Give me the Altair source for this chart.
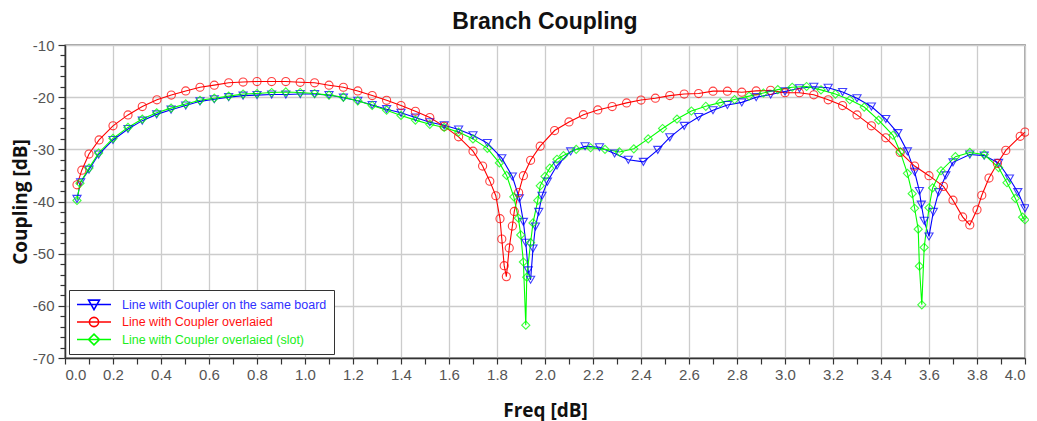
import altair as alt
import pandas as pd

S_BLUE = "Line with Coupler on the same board"
S_RED = "Line with Coupler overlaied"
S_GREEN = "Line with Coupler overlaied (slot)"
series_names = [S_BLUE, S_RED, S_GREEN]
series_colors = ["#0000ff", "#ff0000", "#00ff00"]
label_colors = ["#3030ff", "#ff1010", "#20ee20"]
marker_shapes = ["triangle-down", "circle", "diamond"]

blue_freq = [0.05, 0.065, 0.10, 0.14, 0.20, 0.2625, 0.322, 0.382, 0.442, 0.503, 0.5625, 0.622, 0.682,
             0.742, 0.80, 0.861, 0.92, 0.98, 1.04, 1.10, 1.16, 1.22, 1.28, 1.34, 1.40, 1.46, 1.52, 1.58,
             1.64, 1.70, 1.76, 1.82, 1.864, 1.893, 1.91, 1.92, 1.93, 1.94, 1.95, 1.96, 1.974, 1.9875,
             2.01, 2.05, 2.107, 2.167, 2.227, 2.29, 2.347, 2.41, 2.47, 2.52, 2.58, 2.64, 2.70, 2.76,
             2.82, 2.88, 2.94, 3.00, 3.06, 3.12, 3.18, 3.24, 3.30, 3.36, 3.42, 3.47, 3.51, 3.54, 3.56,
             3.568, 3.58, 3.60, 3.618, 3.64, 3.67, 3.70, 3.77, 3.83, 3.89, 3.935, 3.97, 4.00]
blue_db = [-39.5, -36.3, -33.9, -31.0, -28.2, -26.1, -24.5, -23.3, -22.4, -21.6, -20.8, -20.4, -20.0,
           -19.7, -19.6, -19.5, -19.5, -19.4, -19.4, -19.6, -20.1, -20.7, -21.5, -22.3, -23.0, -23.9, -24.8, -25.4,
           -26.2, -27.3, -28.8, -31.7, -35.2, -39.4, -43.9, -47.9, -53.2, -55.0, -49.0, -44.8, -42.0, -38.9,
           -36.2, -33.1, -30.4, -29.4, -29.6, -30.8, -32.0, -32.4, -30.1, -27.7, -25.5, -23.8, -22.5, -21.5,
           -21.0, -20.0, -19.5, -18.9, -18.3, -18.0, -18.2, -19.0, -20.2, -21.8, -24.2, -26.9, -30.4, -34.3, -38.0,
           -40.6, -43.7, -46.7, -42.0, -38.2, -35.0, -32.5, -31.0, -31.2, -32.6, -35.6, -38.2, -41.3]

red_freq = [0.05, 0.07, 0.10, 0.142, 0.20, 0.2625, 0.322, 0.383, 0.443, 0.503, 0.5625, 0.622, 0.682,
            0.742, 0.80, 0.861, 0.92, 0.98, 1.04, 1.10, 1.16, 1.22, 1.28, 1.34, 1.40, 1.46, 1.52, 1.58,
            1.64, 1.70, 1.74, 1.77, 1.795, 1.8125, 1.82, 1.83, 1.839, 1.851, 1.864, 1.872, 1.89, 1.91,
            1.94, 1.98, 2.04, 2.10, 2.16, 2.22, 2.28, 2.34, 2.40, 2.46, 2.52, 2.58, 2.64, 2.70, 2.76,
            2.82, 2.88, 2.94, 3.00, 3.06, 3.12, 3.18, 3.24, 3.30, 3.36, 3.42, 3.48, 3.54, 3.60, 3.66,
            3.70, 3.74, 3.77, 3.80, 3.82, 3.85, 3.885, 3.92, 3.98, 4.00]
red_db = [-36.8, -34.0, -30.9, -28.2, -25.5, -23.4, -21.8, -20.5, -19.6, -18.8, -18.1, -17.7, -17.25,
          -17.1, -17.0, -17.0, -17.0, -17.15, -17.25, -17.7, -18.1, -18.8, -19.7, -20.6, -21.6, -22.7, -23.9, -25.6,
          -27.6, -30.35, -33.2, -36.1, -38.9, -43.3, -47.2, -52.3, -54.4, -48.9, -44.7, -41.9, -38.3, -35.05,
          -32.1, -29.4, -26.4, -24.75, -23.35, -22.45, -21.8, -21.1, -20.55, -20.2, -19.7, -19.4, -19.3, -18.85, -18.85,
          -19.05, -18.8, -18.7, -19.15, -19.15, -19.55, -20.5, -21.6, -23.4, -25.5, -27.8, -30.6, -33.2, -35.05, -37.1,
          -39.75, -42.95, -44.5, -41.6, -38.8, -35.5, -32.7, -30.2, -27.5, -26.7]

green_freq = [0.05, 0.0625, 0.10, 0.14, 0.20, 0.2625, 0.322, 0.382, 0.442, 0.503, 0.5625, 0.622, 0.682,
              0.742, 0.80, 0.861, 0.92, 0.98, 1.04, 1.10, 1.16, 1.22, 1.28, 1.34, 1.40, 1.46, 1.52, 1.58,
              1.64, 1.70, 1.76, 1.81, 1.84, 1.87, 1.889, 1.899, 1.91, 1.92, 1.924, 1.94, 1.95, 1.97,
              1.98, 2.0, 2.02, 2.05, 2.077, 2.13, 2.19, 2.25, 2.31, 2.37, 2.43, 2.49, 2.55, 2.61, 2.67,
              2.73, 2.79, 2.85, 2.91, 2.97, 3.03, 3.09, 3.15, 3.21, 3.27, 3.33, 3.39, 3.45, 3.48, 3.51,
              3.53, 3.54, 3.555, 3.56, 3.57, 3.58, 3.60, 3.615, 3.65, 3.71, 3.77, 3.83, 3.89, 3.925,
              3.96, 3.99, 4.00]
green_db = [-39.8, -36.5, -33.6, -30.7, -27.9, -25.8, -24.2, -23.0, -22.1, -21.3, -20.6, -20.2, -19.8,
            -19.4, -19.3, -19.1, -19.0, -19.1, -19.3, -19.6, -20.0, -20.7, -21.6, -22.5, -23.5, -24.4, -25.2, -25.8,
            -26.7, -28.0, -29.8, -32.6, -35.0, -39.1, -43.2, -46.4, -51.6, -63.7, -54.5, -47.9, -44.1, -39.8,
            -37.0, -35.2, -33.6, -31.9, -31.2, -30.0, -29.7, -30.0, -30.5, -29.9, -28.0, -26.0, -24.2, -22.65, -21.75,
            -21.05, -20.45, -19.8, -19.2, -18.55, -18.1, -17.95, -18.6, -19.4, -20.5, -21.9, -24.4, -27.3, -30.5, -34.6,
            -38.5, -41.3, -45.3, -52.4, -59.8, -48.8, -41.2, -37.4, -34.1, -31.4, -30.6, -31.0, -33.5, -36.4,
            -39.4, -43.0, -43.5]

x_ticks = [round(i * 0.1, 1) for i in range(0, 41)]
y_ticks = list(range(-70, -9, 2))

frames = []
for name, fr, db in [(S_BLUE, blue_freq, blue_db), (S_RED, red_freq, red_db), (S_GREEN, green_freq, green_db)]:
    frames.append(pd.DataFrame({"series": name, "freq": fr, "db": db}))
df = pd.concat(frames, ignore_index=True)

legend_paths = [
    "M-1,0H1M-0.32,-0.26H0.32L0,0.3Z",
    "M-1,0H1M0.27,0A0.27,0.27,0,1,1,-0.27,0A0.27,0.27,0,1,1,0.27,0Z",
    "M-1,0H1M0,-0.32L0.32,0L0,0.32L-0.32,0Z",
]

X_MAJOR = "abs(datum.value*5 - round(datum.value*5)) < 0.001"
Y_MAJOR = "abs(datum.value % 10) < 0.001"

x_enc = alt.X("freq:Q", scale=alt.Scale(domain=[0, 4], nice=False, zero=False),
              axis=alt.Axis(values=x_ticks, tickCount=200, title="Freq [dB]", labelOverlap=False,
                            labelExpr=X_MAJOR + " ? format(datum.value, '.1f') : ''",
                            gridOpacity={"condition": {"test": X_MAJOR, "value": 1}, "value": 0},
                            tickSize=6, labelPadding=3, titlePadding=19))
y_enc = alt.Y("db:Q", scale=alt.Scale(domain=[-70, -10], nice=False, zero=False),
              axis=alt.Axis(values=y_ticks, tickCount=200, title="Coupling [dB]", labelOverlap=False,
                            labelExpr=Y_MAJOR + " ? '' + datum.value : ''",
                            gridOpacity={"condition": {"test": Y_MAJOR, "value": 1}, "value": 0},
                            tickSize={"condition": {"test": Y_MAJOR, "value": 7}, "value": 5},
                            labelPadding=4, titlePadding=2))

# data-driven domain (alphabetical order equals series_names order)
color_scale = alt.Scale(range=series_colors)

lines = alt.Chart(df).mark_line(strokeWidth=1.1).encode(
    x=x_enc, y=y_enc,
    color=alt.Color("series:N", scale=color_scale, legend=None),
    order=alt.Order("freq:Q"),
)

point_layers = []
for name, shp in zip(series_names, marker_shapes):
    point_layers.append(
        alt.Chart(df).transform_filter(alt.datum.series == name).mark_point(
            shape=shp, size=66, filled=False, strokeWidth=1.1, opacity=0.75
        ).encode(
            x="freq:Q", y="db:Q",
            color=alt.Color("series:N", scale=color_scale, legend=None),
        )
    )

def pick(colors):
    return ("datum.label == '%s' ? '%s' : (datum.label == '%s' ? '%s' : '%s')"
            % (S_BLUE, colors[0], S_RED, colors[1], colors[2]))

legend_layer = alt.Chart(df).mark_point(filled=False, size=0, strokeWidth=1.6).encode(
    x="freq:Q", y="db:Q",
    shape=alt.Shape("series:N", scale=alt.Scale(domain=series_names, range=legend_paths),
                    legend=alt.Legend(title=None, orient="bottom-left", offset=4, padding=7,
                                      strokeColor="#333333", fillColor="white",
                                      symbolSize=1156, symbolStrokeWidth=1.6,
                                      symbolFillColor="transparent",
                                      symbolStrokeColor=alt.ExprRef(expr=pick(series_colors)),
                                      symbolOpacity=1,
                                      labelFont="Liberation Sans", labelFontSize=12.5,
                                      labelColor=alt.ExprRef(expr=pick(label_colors)),
                                      clipHeight=15,
                                      labelOffset=10, rowPadding=2.5, labelLimit=400)),
)

chart = alt.layer(lines, *point_layers, legend_layer).properties(
    width=960, height=313,
    background="white",
    title=alt.TitleParams("Branch Coupling", font="Liberation Sans", fontSize=23, fontWeight="bold",
                          color="#111111", anchor="middle", offset=4),
    autosize=alt.AutoSizeParams(type="none"),
    padding={"left": 57, "top": 37, "right": 4, "bottom": 63},
).configure_axis(
    labelFont="Liberation Sans", labelFontSize=15, labelColor="#555555",
    titleFont="Open Sans", titleFontSize=19, titleFontWeight="bold", titleColor="#111111",
    domainColor="#333333", domainWidth=1.5, tickColor="#333333", tickWidth=1.2,
    gridColor="#cccccc", gridWidth=1.3,
).configure_view(stroke="#444444", strokeWidth=1.3)

chart.save("out.html", embed_options={"renderer": "svg", "actions": False})
